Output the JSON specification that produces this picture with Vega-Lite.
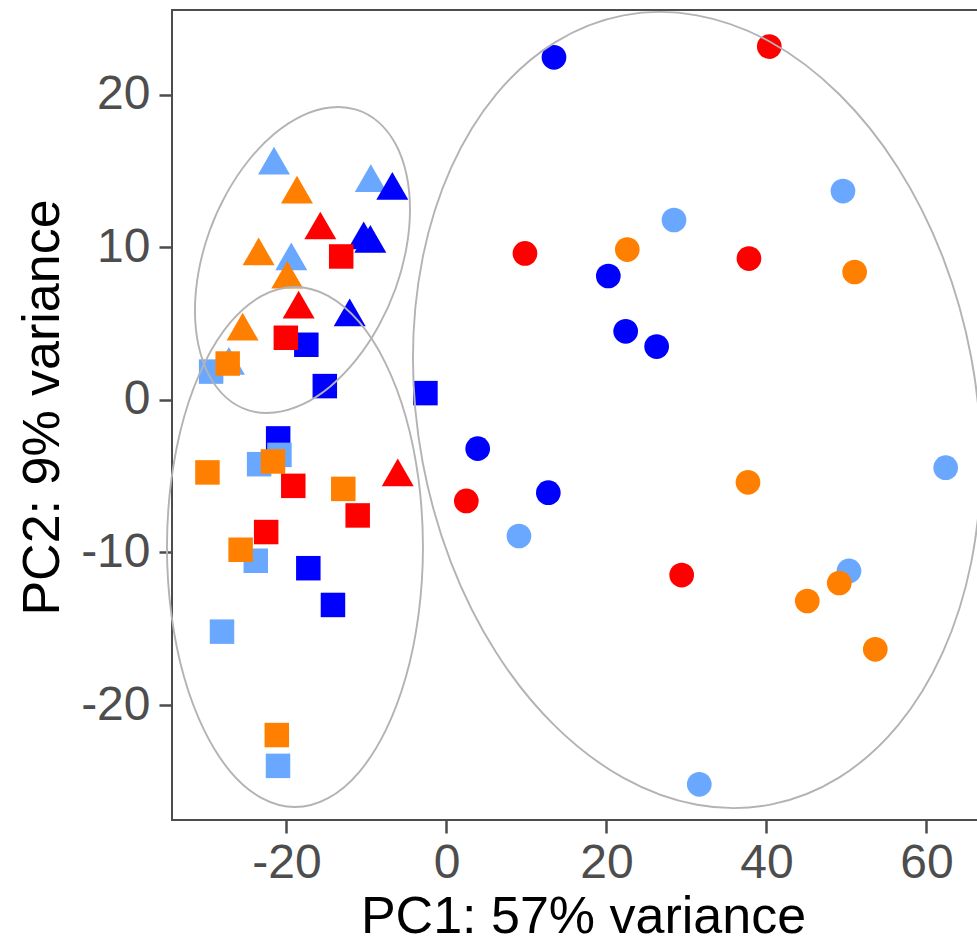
{
  "$schema": "https://vega.github.io/schema/vega-lite/v6.json",
  "width": 822,
  "height": 810,
  "autosize": {"type": "none"},
  "padding": {"left": 172, "top": 10, "right": 0, "bottom": 123},
  "background": "white",
  "config": {
    "view": {"stroke": "#4D4D4D", "strokeWidth": 2},
    "font": "Liberation Sans",
    "axis": {"labelFont": "Liberation Sans", "titleFont": "Liberation Sans"}
  },
  "datasets": {
    "samples": [
      {"PC1": 13.44, "PC2": 22.47, "group": "G1", "type": "T1"},
      {"PC1": 20.23, "PC2": 8.13, "group": "G1", "type": "T1"},
      {"PC1": 22.40, "PC2": 4.50, "group": "G1", "type": "T1"},
      {"PC1": 26.27, "PC2": 3.50, "group": "G1", "type": "T1"},
      {"PC1": 3.90, "PC2": -3.19, "group": "G1", "type": "T1"},
      {"PC1": 12.73, "PC2": -6.08, "group": "G1", "type": "T1"},
      {"PC1": -17.52, "PC2": 3.62, "group": "G1", "type": "T2"},
      {"PC1": -15.21, "PC2": 0.91, "group": "G1", "type": "T2"},
      {"PC1": -2.63, "PC2": 0.45, "group": "G1", "type": "T2"},
      {"PC1": -21.04, "PC2": -2.52, "group": "G1", "type": "T2"},
      {"PC1": -17.27, "PC2": -11.03, "group": "G1", "type": "T2"},
      {"PC1": -14.19, "PC2": -13.44, "group": "G1", "type": "T2"},
      {"PC1": -10.35, "PC2": 10.79, "group": "G1", "type": "T3"},
      {"PC1": -9.52, "PC2": 10.57, "group": "G1", "type": "T3"},
      {"PC1": -12.10, "PC2": 5.74, "group": "G1", "type": "T3"},
      {"PC1": 28.44, "PC2": 11.80, "group": "G2", "type": "T1"},
      {"PC1": 9.06, "PC2": -8.92, "group": "G2", "type": "T1"},
      {"PC1": 31.60, "PC2": -25.20, "group": "G2", "type": "T1"},
      {"PC1": 49.56, "PC2": 13.70, "group": "G2", "type": "T1"},
      {"PC1": 62.40, "PC2": -4.44, "group": "G2", "type": "T1"},
      {"PC1": 50.31, "PC2": -11.21, "group": "G2", "type": "T1"},
      {"PC1": -29.42, "PC2": 1.86, "group": "G2", "type": "T2"},
      {"PC1": -20.88, "PC2": -3.60, "group": "G2", "type": "T2"},
      {"PC1": -23.42, "PC2": -4.21, "group": "G2", "type": "T2"},
      {"PC1": -23.84, "PC2": -10.54, "group": "G2", "type": "T2"},
      {"PC1": -28.06, "PC2": -15.19, "group": "G2", "type": "T2"},
      {"PC1": -21.06, "PC2": -23.99, "group": "G2", "type": "T2"},
      {"PC1": -21.56, "PC2": 15.69, "group": "G2", "type": "T3"},
      {"PC1": -9.46, "PC2": 14.54, "group": "G2", "type": "T3"},
      {"PC1": -19.40, "PC2": 9.42, "group": "G2", "type": "T3"},
      {"PC1": -27.20, "PC2": 2.57, "group": "G2", "type": "T3"},
      {"PC1": -6.77, "PC2": 14.04, "group": "G1", "type": "T3"},
      {"PC1": 22.60, "PC2": 9.86, "group": "G3", "type": "T1"},
      {"PC1": 51.02, "PC2": 8.39, "group": "G3", "type": "T1"},
      {"PC1": 37.69, "PC2": -5.40, "group": "G3", "type": "T1"},
      {"PC1": 49.10, "PC2": -12.00, "group": "G3", "type": "T1"},
      {"PC1": 45.10, "PC2": -13.18, "group": "G3", "type": "T1"},
      {"PC1": 53.60, "PC2": -16.35, "group": "G3", "type": "T1"},
      {"PC1": -27.35, "PC2": 2.39, "group": "G3", "type": "T2"},
      {"PC1": -21.69, "PC2": -4.03, "group": "G3", "type": "T2"},
      {"PC1": -29.88, "PC2": -4.75, "group": "G3", "type": "T2"},
      {"PC1": -12.90, "PC2": -5.83, "group": "G3", "type": "T2"},
      {"PC1": -25.73, "PC2": -9.82, "group": "G3", "type": "T2"},
      {"PC1": -21.21, "PC2": -21.97, "group": "G3", "type": "T2"},
      {"PC1": -18.69, "PC2": 13.79, "group": "G3", "type": "T3"},
      {"PC1": -23.48, "PC2": 9.74, "group": "G3", "type": "T3"},
      {"PC1": -19.90, "PC2": 8.21, "group": "G3", "type": "T3"},
      {"PC1": -25.48, "PC2": 4.81, "group": "G3", "type": "T3"},
      {"PC1": 9.81, "PC2": 9.61, "group": "G4", "type": "T1"},
      {"PC1": 2.48, "PC2": -6.62, "group": "G4", "type": "T1"},
      {"PC1": 29.40, "PC2": -11.48, "group": "G4", "type": "T1"},
      {"PC1": 40.35, "PC2": 23.17, "group": "G4", "type": "T1"},
      {"PC1": 37.81, "PC2": 9.27, "group": "G4", "type": "T1"},
      {"PC1": -13.16, "PC2": 9.41, "group": "G4", "type": "T2"},
      {"PC1": -20.08, "PC2": 4.08, "group": "G4", "type": "T2"},
      {"PC1": -19.15, "PC2": -5.63, "group": "G4", "type": "T2"},
      {"PC1": -11.10, "PC2": -7.57, "group": "G4", "type": "T2"},
      {"PC1": -22.54, "PC2": -8.66, "group": "G4", "type": "T2"},
      {"PC1": -15.77, "PC2": 11.44, "group": "G4", "type": "T3"},
      {"PC1": -18.48, "PC2": 6.25, "group": "G4", "type": "T3"},
      {"PC1": -6.09, "PC2": -4.75, "group": "G4", "type": "T3"}
    ],
    "ellipses": [
      {"ell": "A", "i": 0, "PC1": -4.56, "PC2": 12.49},
      {"ell": "A", "i": 1, "PC1": -5.02, "PC2": 9.93},
      {"ell": "A", "i": 2, "PC1": -6.36, "PC2": 7.31},
      {"ell": "A", "i": 3, "PC1": -8.50, "PC2": 4.83},
      {"ell": "A", "i": 4, "PC1": -11.28, "PC2": 2.64},
      {"ell": "A", "i": 5, "PC1": -14.52, "PC2": 0.89},
      {"ell": "A", "i": 6, "PC1": -18.00, "PC2": -0.29},
      {"ell": "A", "i": 7, "PC1": -21.48, "PC2": -0.82},
      {"ell": "A", "i": 8, "PC1": -24.72, "PC2": -0.68},
      {"ell": "A", "i": 9, "PC1": -27.50, "PC2": 0.14},
      {"ell": "A", "i": 10, "PC1": -29.64, "PC2": 1.58},
      {"ell": "A", "i": 11, "PC1": -30.98, "PC2": 3.53},
      {"ell": "A", "i": 12, "PC1": -31.44, "PC2": 5.87},
      {"ell": "A", "i": 13, "PC1": -30.98, "PC2": 8.43},
      {"ell": "A", "i": 14, "PC1": -29.64, "PC2": 11.05},
      {"ell": "A", "i": 15, "PC1": -27.50, "PC2": 13.53},
      {"ell": "A", "i": 16, "PC1": -24.72, "PC2": 15.72},
      {"ell": "A", "i": 17, "PC1": -21.48, "PC2": 17.47},
      {"ell": "A", "i": 18, "PC1": -18.00, "PC2": 18.65},
      {"ell": "A", "i": 19, "PC1": -14.52, "PC2": 19.18},
      {"ell": "A", "i": 20, "PC1": -11.28, "PC2": 19.04},
      {"ell": "A", "i": 21, "PC1": -8.50, "PC2": 18.22},
      {"ell": "A", "i": 22, "PC1": -6.36, "PC2": 16.78},
      {"ell": "A", "i": 23, "PC1": -5.02, "PC2": 14.83},
      {"ell": "B", "i": 0, "PC1": -2.94, "PC2": -9.64},
      {"ell": "B", "i": 1, "PC1": -3.49, "PC2": -5.23},
      {"ell": "B", "i": 2, "PC1": -5.08, "PC2": -1.11},
      {"ell": "B", "i": 3, "PC1": -7.63, "PC2": 2.42},
      {"ell": "B", "i": 4, "PC1": -10.94, "PC2": 5.13},
      {"ell": "B", "i": 5, "PC1": -14.80, "PC2": 6.83},
      {"ell": "B", "i": 6, "PC1": -18.94, "PC2": 7.41},
      {"ell": "B", "i": 7, "PC1": -23.08, "PC2": 6.83},
      {"ell": "B", "i": 8, "PC1": -26.94, "PC2": 5.13},
      {"ell": "B", "i": 9, "PC1": -30.25, "PC2": 2.42},
      {"ell": "B", "i": 10, "PC1": -32.80, "PC2": -1.11},
      {"ell": "B", "i": 11, "PC1": -34.39, "PC2": -5.23},
      {"ell": "B", "i": 12, "PC1": -34.94, "PC2": -9.64},
      {"ell": "B", "i": 13, "PC1": -34.39, "PC2": -14.05},
      {"ell": "B", "i": 14, "PC1": -32.80, "PC2": -18.17},
      {"ell": "B", "i": 15, "PC1": -30.25, "PC2": -21.70},
      {"ell": "B", "i": 16, "PC1": -26.94, "PC2": -24.41},
      {"ell": "B", "i": 17, "PC1": -23.08, "PC2": -26.11},
      {"ell": "B", "i": 18, "PC1": -18.94, "PC2": -26.69},
      {"ell": "B", "i": 19, "PC1": -14.80, "PC2": -26.11},
      {"ell": "B", "i": 20, "PC1": -10.94, "PC2": -24.41},
      {"ell": "B", "i": 21, "PC1": -7.63, "PC2": -21.70},
      {"ell": "B", "i": 22, "PC1": -5.08, "PC2": -18.17},
      {"ell": "B", "i": 23, "PC1": -3.49, "PC2": -14.05},
      {"ell": "C", "i": 0, "PC1": 66.81, "PC2": -4.05},
      {"ell": "C", "i": 1, "PC1": 65.60, "PC2": -10.63},
      {"ell": "C", "i": 2, "PC1": 62.05, "PC2": -16.53},
      {"ell": "C", "i": 3, "PC1": 56.41, "PC2": -21.35},
      {"ell": "C", "i": 4, "PC1": 49.06, "PC2": -24.76},
      {"ell": "C", "i": 5, "PC1": 40.50, "PC2": -26.53},
      {"ell": "C", "i": 6, "PC1": 31.31, "PC2": -26.54},
      {"ell": "C", "i": 7, "PC1": 22.12, "PC2": -24.78},
      {"ell": "C", "i": 8, "PC1": 13.56, "PC2": -21.37},
      {"ell": "C", "i": 9, "PC1": 6.21, "PC2": -16.56},
      {"ell": "C", "i": 10, "PC1": 0.57, "PC2": -10.66},
      {"ell": "C", "i": 11, "PC1": -2.98, "PC2": -4.08},
      {"ell": "C", "i": 12, "PC1": -4.19, "PC2": 2.73},
      {"ell": "C", "i": 13, "PC1": -2.98, "PC2": 9.32},
      {"ell": "C", "i": 14, "PC1": 0.57, "PC2": 15.22},
      {"ell": "C", "i": 15, "PC1": 6.21, "PC2": 20.04},
      {"ell": "C", "i": 16, "PC1": 13.56, "PC2": 23.45},
      {"ell": "C", "i": 17, "PC1": 22.12, "PC2": 25.22},
      {"ell": "C", "i": 18, "PC1": 31.31, "PC2": 25.22},
      {"ell": "C", "i": 19, "PC1": 40.50, "PC2": 23.47},
      {"ell": "C", "i": 20, "PC1": 49.06, "PC2": 20.06},
      {"ell": "C", "i": 21, "PC1": 56.41, "PC2": 15.25},
      {"ell": "C", "i": 22, "PC1": 62.05, "PC2": 9.35},
      {"ell": "C", "i": 23, "PC1": 65.60, "PC2": 2.77}
    ]
  },
  "encoding": {
    "x": {
      "field": "PC1",
      "type": "quantitative",
      "scale": {"domain": [-34.31, 68.44], "nice": false, "zero": false},
      "axis": {
        "values": [-20, 0, 20, 40, 60],
        "labelExpr": "toString(datum.value)",
        "title": "PC1: 57% variance",
        "grid": false,
        "domain": false,
        "tickSize": 13,
        "tickWidth": 2.5,
        "tickColor": "#4D4D4D",
        "labelFontSize": 48,
        "labelColor": "#4D4D4D",
        "labelPadding": 6,
        "labelFlush": false,
        "labelOverlap": false,
        "titleFontSize": 52,
        "titleFontWeight": "normal",
        "titleColor": "black",
        "titleBaseline": "alphabetic",
        "titleY": 112,
        "titleX": 411
      }
    },
    "y": {
      "field": "PC2",
      "type": "quantitative",
      "scale": {"domain": [-27.54, 25.57], "nice": false, "zero": false},
      "axis": {
        "values": [-20, -10, 0, 10, 20],
        "labelExpr": "toString(datum.value)",
        "title": "PC2: 9% variance",
        "grid": false,
        "domain": false,
        "tickSize": 13,
        "tickWidth": 2.5,
        "tickColor": "#4D4D4D",
        "labelFontSize": 48,
        "labelColor": "#4D4D4D",
        "labelPadding": 9,
        "labelFlush": false,
        "labelOverlap": false,
        "titleFontSize": 52,
        "titleFontWeight": "normal",
        "titleColor": "black",
        "titleAngle": 270,
        "titleAlign": "center",
        "titleBaseline": "alphabetic",
        "titleX": -114,
        "titleY": 397
      }
    }
  },
  "layer": [
    {
      "data": {"name": "samples"},
      "mark": {"type": "point", "filled": true, "opacity": 1, "strokeWidth": 0},
      "encoding": {
        "color": {
          "field": "group",
          "type": "nominal",
          "scale": {"domain": ["G1", "G2", "G3", "G4"], "range": ["#0000FF", "#6AA8FF", "#FF8000", "#FF0000"]},
          "legend": null
        },
        "shape": {
          "field": "type",
          "type": "nominal",
          "scale": {"domain": ["T1", "T2", "T3"], "range": ["circle", "square", "triangle-up"]},
          "legend": null
        },
        "size": {
          "field": "type",
          "type": "nominal",
          "scale": {"type": "ordinal", "domain": ["T1", "T2", "T3"], "range": [610, 600, 1024]},
          "legend": null
        }
      }
    },
    {
      "data": {"name": "ellipses"},
      "mark": {"type": "line", "interpolate": "cardinal-closed", "color": "#B3B3B3", "strokeWidth": 1.9},
      "encoding": {
        "detail": {"field": "ell", "type": "nominal"},
        "order": {"field": "i", "type": "quantitative"}
      }
    }
  ]
}
